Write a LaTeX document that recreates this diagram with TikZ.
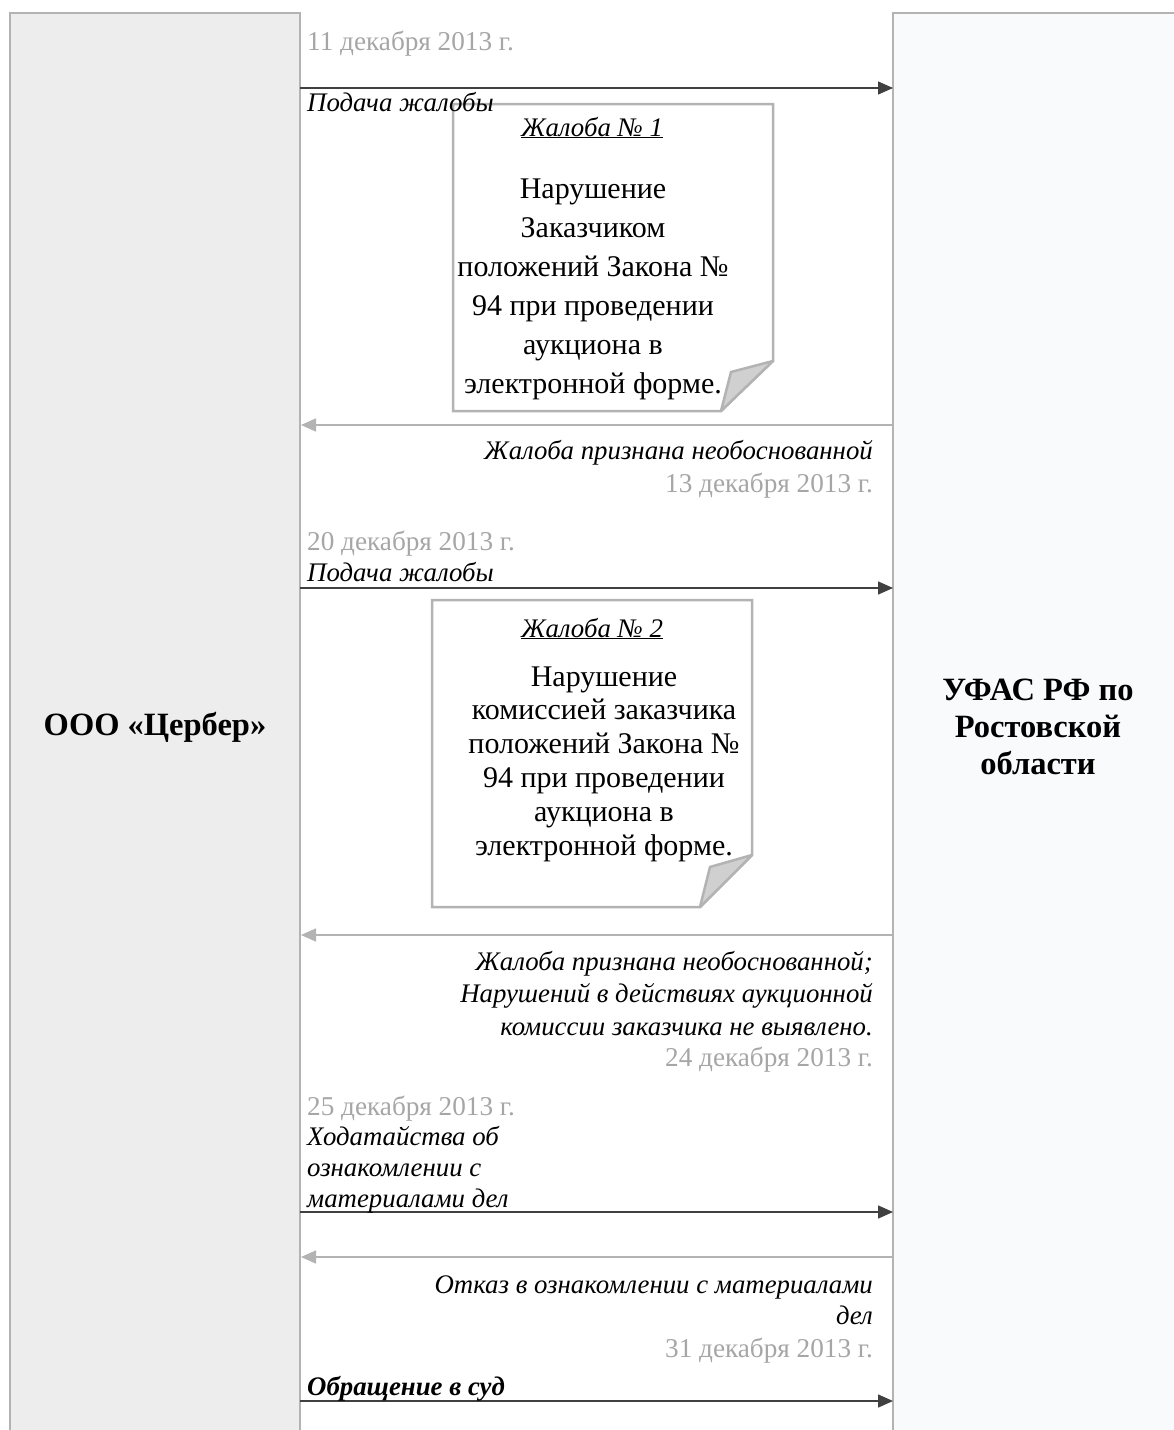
\documentclass[tikz,border=0pt]{standalone}
\usepackage{fontspec}
\setmainfont{Liberation Serif}
\usetikzlibrary{arrows.meta}
\definecolor{colborder}{HTML}{B3B3B3}
\definecolor{leftfill}{HTML}{EDEDED}
\definecolor{rightfill}{HTML}{F9FAFB}
\definecolor{fwdcol}{HTML}{404040}
\definecolor{datecol}{HTML}{A6A6A6}
\definecolor{foldfill}{HTML}{D0D0D0}
\begin{document}
\begin{tikzpicture}[x=1pt,y=-1pt,
  column/.style={draw=colborder, line width=2.5pt},
  fwd/.style={draw=fwdcol, line width=1.4pt, -{Triangle[length=15pt,width=13pt]}},
  ret/.style={draw=colborder, line width=1.4pt, -{Triangle[length=15pt,width=13pt]}},
  datel/.style={inner sep=0pt, text=datecol, font=\fontsize{27.2}{31.5}\selectfont},
  lbl/.style={inner sep=0pt, align=left, font=\fontsize{26.8}{31}\selectfont\itshape},
  rlbl/.style={inner sep=0pt, align=right, font=\fontsize{26.8}{31}\selectfont\itshape},
  docbox/.style={draw=colborder, line width=2.5pt, fill=white, line join=miter},
  fold/.style={draw=colborder, line width=2.5pt, fill=foldfill, line join=round},
  docbody/.style={inner sep=0pt, align=center},
  dochead/.style={inner sep=0pt, font=\fontsize{26.8}{31}\selectfont\itshape},
  party/.style={inner sep=0pt, align=center, font=\fontsize{32.5}{37}\selectfont\bfseries}]
\useasboundingbox (0,0) rectangle (1174,1430);
\clip (0,0) rectangle (1174,1430);
\fill[white] (0,0) rectangle (1174,1430);
% columns
\draw[column, fill=leftfill] (10,1450) -- (10,13) -- (300,13) -- (300,1450);
\draw[column, fill=rightfill] (893,1450) -- (893,13) -- (1185,13) -- (1185,1450);
\node[party] (cerber) at (155,727) {ООО «Цербер»};
\node[party] (ufas) at (1038,727) {УФАС РФ по\\Ростовской\\области};
% arrow end points
\coordinate (l1) at (300,88);   \coordinate (r1) at (893,88);
\coordinate (l2) at (301,425);  \coordinate (r2) at (893,425);
\coordinate (l3) at (300,588);  \coordinate (r3) at (893,588);
\coordinate (l4) at (301,935);  \coordinate (r4) at (893,935);
\coordinate (l5) at (300,1212); \coordinate (r5) at (893,1212);
\coordinate (l6) at (301,1257); \coordinate (r6) at (893,1257);
\coordinate (l7) at (300,1401); \coordinate (r7) at (893,1401);
% document 1
\draw[docbox] (453,104) -- (773,104) -- (773,361) -- (721,411) -- (453,411) -- cycle;
\draw[fold] (773,361) -- (731,372) -- (721,411) -- cycle;
\node[dochead, anchor=base] (h1) at (592,136) {\underline{Жалоба № 1}};
\node[docbody, anchor=base, font=\fontsize{30}{39}\selectfont] (b1) at (593,393)
  {Нарушение\\Заказчиком\\положений Закона №\\94 при проведении\\аукциона в\\электронной форме.};
% document 2
\draw[docbox] (432,600) -- (752,600) -- (752,855) -- (700,907) -- (432,907) -- cycle;
\draw[fold] (752,855) -- (710,867) -- (700,907) -- cycle;
\node[dochead, anchor=base] (h2) at (592,637) {\underline{Жалоба № 2}};
\node[docbody, anchor=base, font=\fontsize{30}{33.8}\selectfont] (b2) at (604,855)
  {Нарушение\\комиссией заказчика\\положений Закона №\\94 при проведении\\аукциона в\\электронной форме.};
% arrows
\draw[fwd] (l1) -- (r1);
\draw[ret] (r2) -- (l2);
\draw[fwd] (l3) -- (r3);
\draw[ret] (r4) -- (l4);
\draw[fwd] (l5) -- (r5);
\draw[ret] (r6) -- (l6);
\draw[fwd] (l7) -- (r7);
% labels
\node[datel, anchor=base west] (d1) at (307,50) {11 декабря 2013 г.};
\node[lbl, anchor=base west] (m1) at (307,111) {Подача жалобы};
\node[rlbl, anchor=base east] (m2) at (873,459) {Жалоба признана необоснованной};
\node[datel, anchor=base east] (d2) at (873,492) {13 декабря 2013 г.};
\node[datel, anchor=base west] (d3) at (307,550) {20 декабря 2013 г.};
\node[lbl, anchor=base west] (m3) at (307,581) {Подача жалобы};
\node[rlbl, anchor=base east, font=\fontsize{26.8}{32.5}\selectfont\itshape] (m4) at (873,1035) {Жалоба признана необоснованной;\\Нарушений в действиях аукционной\\комиссии заказчика не выявлено.};
\node[datel, anchor=base east] (d4) at (873,1066) {24 декабря 2013 г.};
\node[datel, anchor=base west] (d5) at (307,1115) {25 декабря 2013 г.};
\node[lbl, anchor=base west] (m5) at (307,1207) {Ходатайства об\\ознакомлении с\\материалами дел};
\node[rlbl, anchor=base east] (m6) at (873,1324) {Отказ в ознакомлении с материалами\\дел};
\node[datel, anchor=base east] (d6) at (873,1357) {31 декабря 2013 г.};
\node[lbl, anchor=base west, font=\fontsize{26.8}{31}\selectfont\bfseries\itshape] (m7) at (307,1395) {Обращение в суд};
\end{tikzpicture}
\end{document}
